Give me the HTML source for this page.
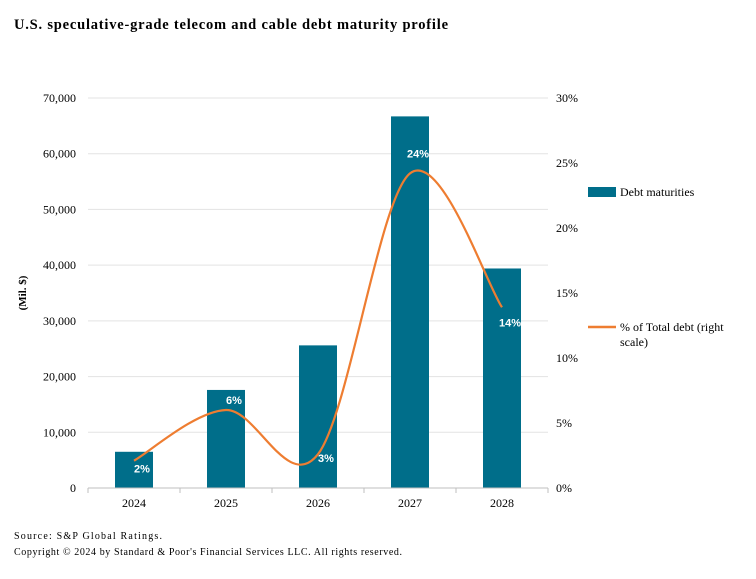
<!DOCTYPE html>
<html><head><meta charset="utf-8"><style>
body{margin:0;background:#fff;}
svg text{font-family:"Liberation Serif",serif;}
svg text.sans{font-family:"Liberation Sans",sans-serif;}
</style></head><body>
<svg id="c" width="756" height="574" xmlns="http://www.w3.org/2000/svg">
<rect width="756" height="574" fill="#fff"/>
<text x="14" y="29" font-size="14.5" font-weight="bold" fill="#000" textLength="434" lengthAdjust="spacing">U.S. speculative-grade telecom and cable debt maturity profile</text>
<g id="grid"></g><g id="bars"></g><g id="line"></g><g id="labels"></g><g id="axes"></g>
<text transform="translate(26,293) rotate(-90)" text-anchor="middle" font-size="11" font-weight="bold">(Mil. $)</text>
<rect x="588" y="187" width="28" height="10" fill="#006e8a"/>
<text x="620" y="196" font-size="12">Debt maturities</text>
<line x1="588" y1="327" x2="616" y2="327" stroke="#ee7d31" stroke-width="2.5"/>
<text x="620" y="331" font-size="12">% of Total debt (right</text>
<text x="620" y="346" font-size="12">scale)</text>
<text x="14" y="539" font-size="10" textLength="148" lengthAdjust="spacing">Source: S&amp;P Global Ratings.</text>
<text x="14" y="555" font-size="10" textLength="388" lengthAdjust="spacing">Copyright © 2024 by Standard &amp; Poor's Financial Services LLC. All rights reserved.</text>
</svg>
<script>
const categories=["2024","2025","2026","2027","2028"];
const debtValues=[6500,17600,25600,66700,39400];
const pctValues=[2.1,6.0,2.6,24.2,13.9];
const pctLabels=["2%","6%","3%","24%","14%"];
const leftTicks=[0,10000,20000,30000,40000,50000,60000,70000];
const rightTicks=[0,5,10,15,20,25,30];
const NS="http://www.w3.org/2000/svg";
const X0=88,X1=548,Y0=488,Y1=98;
const step=(X1-X0)/categories.length;
const xC=i=>X0+step*(i+0.5);
const yL=v=>Y0-(v/70000)*(Y0-Y1);
const yR=v=>Y0-(v/30)*(Y0-Y1);
function mk(t,a,p){const e=document.createElementNS(NS,t);for(const k in a)e.setAttribute(k,a[k]);p.appendChild(e);return e;}
const grid=document.getElementById('grid'),axes=document.getElementById('axes');
leftTicks.forEach((v,i)=>{
 if(v>0){const g=mk('line',{x1:X0,x2:X1,y1:yL(v),y2:yL(v),stroke:'#e3e3e3','stroke-width':1},grid);
 
 }
 const t=mk('text',{x:76,y:yL(v)+4,'text-anchor':'end','font-size':12},axes);t.textContent=v.toLocaleString('en-US');
 
 
});
rightTicks.forEach(v=>{
 const t=mk('text',{x:556,y:yR(v)+4,'font-size':12},axes);t.textContent=v+'%';
 
 
});
const ax=mk('line',{x1:X0,x2:X1,y1:Y0,y2:Y0,stroke:'#bfbfbf'},axes);


for(let i=0;i<=categories.length;i++){const tk=mk('line',{x1:X0+step*i,x2:X0+step*i,y1:Y0,y2:Y0+5,stroke:'#bfbfbf'},axes);
 
 }
const bars=document.getElementById('bars');
categories.forEach((c,i)=>{
 const r=mk('rect',{x:xC(i)-19,y:yL(debtValues[i]),width:38,height:Y0-yL(debtValues[i]),fill:'#006e8a'},bars);
 
 
 const t=mk('text',{x:xC(i),y:507,'text-anchor':'middle','font-size':12},axes);t.textContent=c;
 
 
});
const pts=pctValues.map((v,i)=>[xC(i),yR(v)]);
let d='M'+pts[0][0]+','+pts[0][1];
for(let i=0;i<pts.length-1;i++){
 const p0=pts[Math.max(0,i-1)],p1=pts[i],p2=pts[i+1],p3=pts[Math.min(pts.length-1,i+2)];
 const k=1/3;
 d+=` C${p1[0]+(p2[0]-p0[0])*k/2},${p1[1]+(p2[1]-p0[1])*k/2} ${p2[0]-(p3[0]-p1[0])*k/2},${p2[1]-(p3[1]-p1[1])*k/2} ${p2[0]},${p2[1]}`;
}
const pl=mk('path',{d:d,fill:'none',stroke:'#ee7d31','stroke-width':2.2},document.getElementById('line'));


const lab=document.getElementById('labels');
pctLabels.forEach((s,i)=>{
 const t=mk('text',{x:xC(i)+8,y:pts[i][1]+(i==1?-6:i==3?-16:i==4?19:i==2?8:12),'text-anchor':'middle','font-size':11,'font-weight':'bold',fill:'#fff',class:'sans'},lab);
 t.textContent=s;
 
 
});
</script>
</body></html>
